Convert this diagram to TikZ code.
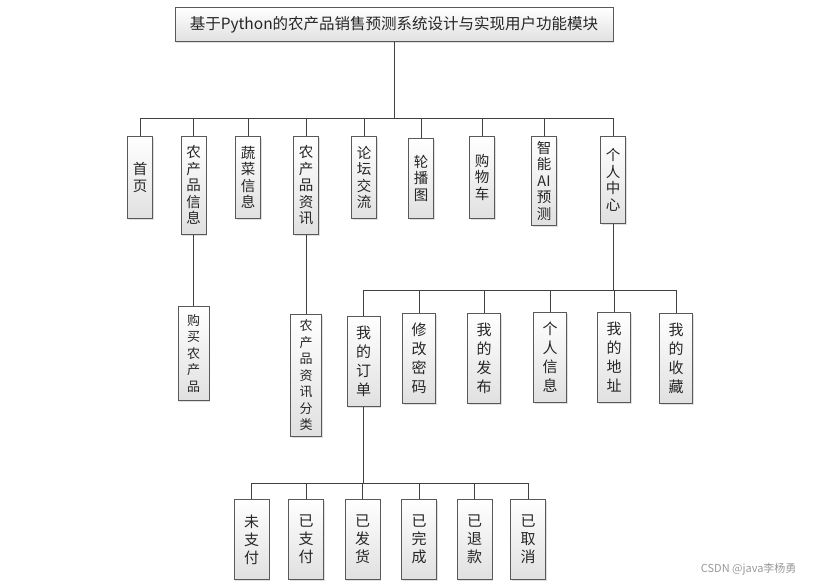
\documentclass[tikz,border=0pt]{standalone}
\usepackage{fontspec}
\setmainfont{Noto Sans CJK SC}
\usepackage{tikz}
\usetikzlibrary{shadows}

\begin{document}
\begin{tikzpicture}[x=1pt, y=-1pt,
  box/.style={draw=black!65, line width=0.7pt, top color=white, bottom color=black!12,
    drop shadow={shadow xshift=1.2pt, shadow yshift=-1.2pt, opacity=0.25},
    inner sep=0pt, align=center, anchor=north, text=black!85},
  lone/.style={box, minimum width=25, font=\fontsize{14.5}{16.5}\selectfont},
  ltwo/.style={box, minimum width=33, font=\fontsize{15}{19}\selectfont},
  lsub/.style={box, minimum width=31, font=\fontsize{13}{16.5}\selectfont},
  lthree/.style={box, minimum width=35, font=\fontsize{15}{18}\selectfont},
  edge/.style={draw=black!75, line width=0.9pt}]
  \useasboundingbox (0,0) rectangle (814,585);
  % title
  \node[box, minimum width=438, minimum height=34, font=\fontsize{15.5}{17}\selectfont]
    (title) at (394,7) {基于Python的农产品销售预测系统设计与实现用户功能模块};
  % first level
  \foreach \n/\x/\y/\h/\t in {
      a/140/136/82/{首\\页},
      b/193.5/136/98/{农\\产\\品\\信\\息},
      c/248/136/82/{蔬\\菜\\信\\息},
      d/306/136/98/{农\\产\\品\\资\\讯},
      e/364/136/82/{论\\坛\\交\\流},
      f/421/138/80/{轮\\播\\图},
      g/482/136/82/{购\\物\\车},
      h/544/136/89/{智\\能\\AI\\预\\测},
      i/613/136/87/{个\\人\\中\\心}}
    \node[lone, minimum height=\h] (m\n) at (\x,\y) {\t};
  % second level
  \node[lsub, minimum height=94] (buy) at (193.5,306) {购\\买\\农\\产\\品};
  \node[lsub, minimum height=122] (kind) at (306,314) {农\\产\\品\\资\\讯\\分\\类};
  \foreach \n/\x/\y/\t in {
      a/363.5/316/{我\\的\\订\\单},
      b/419/313/{修\\改\\密\\码},
      c/484/313/{我\\的\\发\\布},
      d/550/312/{个\\人\\信\\息},
      e/614/312/{我\\的\\地\\址},
      f/676/313/{我\\的\\收\\藏}}
    \node[ltwo, minimum height=90] (p\n) at (\x,\y) {\t};
  % third level
  \foreach \n/\x/\t in {
      a/251.5/{未\\支\\付},
      b/306/{已\\支\\付},
      c/362.5/{已\\发\\货},
      d/419/{已\\完\\成},
      e/474.5/{已\\退\\款},
      f/528/{已\\取\\消}}
    \node[lthree, minimum height=80] (o\n) at (\x,499) {\t};
  % bars
  \coordinate (barm) at (0,118);
  \coordinate (barp) at (0,290.5);
  \coordinate (baro) at (0,483);
  \draw[edge] (title.south) -- (title.south |- barm);
  \draw[edge] (ma.north |- barm) -- (mi.north |- barm);
  \foreach \n in {a,...,i}
    \draw[edge] (m\n.north) -- (m\n.north |- barm);
  \draw[edge] (mb.south) -- (buy.north);
  \draw[edge] (md.south) -- (kind.north);
  \draw[edge] (mi.south) -- (mi.south |- barp);
  \draw[edge] (pa.north |- barp) -- (pf.north |- barp);
  \foreach \n in {a,...,f}
    \draw[edge] (p\n.north) -- (p\n.north |- barp);
  \draw[edge] (pa.south) -- (pa.south |- baro);
  \draw[edge] (oa.north |- baro) -- (of.north |- baro);
  \foreach \n in {a,...,f}
    \draw[edge] (o\n.north) -- (o\n.north |- baro);
  % watermark
  \node[text=black!40, font=\fontsize{11}{13}\selectfont, anchor=east] (mark) at (800,569) {CSDN @java李杨勇};
\end{tikzpicture}
\end{document}
